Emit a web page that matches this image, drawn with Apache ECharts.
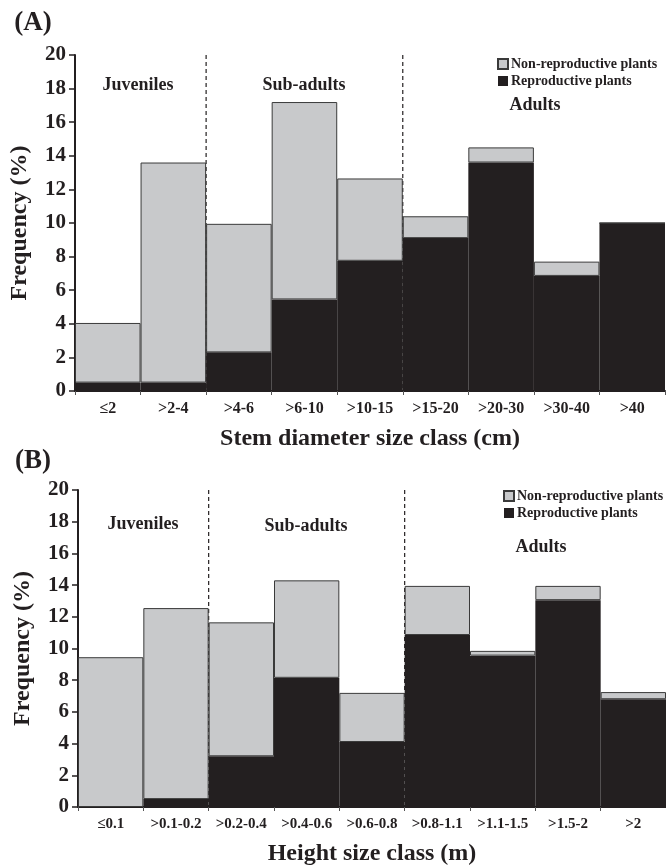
<!DOCTYPE html>
<html><head><meta charset="utf-8">
<script src="https://cdn.jsdelivr.net/npm/echarts@6/dist/echarts.min.js"></script>
<style>html,body{margin:0;padding:0;background:#fff}#c{width:666px;height:867px}</style>
</head><body><div id="c"></div>
<script>
// ---- Data ----
const catsA = ['≤2', '>2-4', '>4-6', '>6-10', '>10-15', '>15-20', '>20-30', '>30-40', '>40'];
const reproA = [0.5, 0.5, 2.3, 5.45, 7.75, 9.1, 13.6, 6.85, 10.0];
const nonReproA = [3.55, 13.1, 7.65, 11.75, 4.9, 1.3, 0.9, 0.85, 0];
const catsB = ['≤0.1', '>0.1-0.2', '>0.2-0.4', '>0.4-0.6', '>0.6-0.8', '>0.8-1.1', '>1.1-1.5', '>1.5-2', '>2'];
const reproB = [0, 0.5, 3.2, 8.15, 4.1, 10.85, 9.55, 13.05, 6.8];
const nonReproB = [9.45, 12.05, 8.45, 6.15, 3.1, 3.1, 0.3, 0.9, 0.45];
const yTicks = [0, 2, 4, 6, 8, 10, 12, 14, 16, 18, 20];
const dividersA = [2, 5]; // boundaries (in class units) between Juveniles/Sub-adults/Adults
const dividersB = [2, 5];
const seriesNames = ['Non-reproductive plants', 'Reproductive plants'];

const FONT = 'Liberation Serif';
const INK = '#231f20';
const GRAY = '#c8c9cb';

const chart = echarts.init(document.getElementById('c'), null, {renderer: 'canvas'});

function xCat(grid, cats, fs) {
  return {
    type: 'category', gridIndex: grid, data: cats,
    axisLine: {lineStyle: {color: INK, width: 2}},
    axisTick: {show: true, length: 4, lineStyle: {color: '#555', width: 1}},
    axisLabel: {color: INK, fontFamily: FONT, fontWeight: 'bold', fontSize: fs, margin: 10, interval: 0},
    name: grid === 0 ? 'Stem diameter size class (cm)' : 'Height size class (m)',
    nameLocation: 'middle', nameGap: grid === 0 ? 36 : 35,
    nameTextStyle: {color: INK, fontFamily: FONT, fontWeight: 'bold', fontSize: 24}
  };
}
function xVal(grid) {
  return {type: 'value', gridIndex: grid, min: 0, max: 9, show: false};
}
function yAx(grid) {
  return {
    type: 'value', gridIndex: grid, min: yTicks[0], max: yTicks[yTicks.length - 1], interval: 2,
    splitLine: {show: false},
    axisLine: {show: true, lineStyle: {color: INK, width: 2}},
    axisTick: {show: true, length: 6, lineStyle: {color: INK, width: 1.5}},
    axisLabel: {color: INK, fontFamily: FONT, fontWeight: 'bold', fontSize: 21, margin: 9},
    name: 'Frequency (%)', nameLocation: 'middle', nameRotate: 90, nameGap: 43,
    nameTextStyle: {color: INK, fontFamily: FONT, fontWeight: 'bold', fontSize: 24}
  };
}
function divider(xi, yi, xs) {
  return {
    type: 'line', xAxisIndex: xi, yAxisIndex: yi, z: 1, silent: true, symbol: 'none',
    lineStyle: {color: INK, width: 1.2, type: [4, 3]},
    data: [[xs, 20], [xs, 0]], legendHoverLink: false, tooltip: {show: false}
  };
}
function bars(xi, yi, repro, non) {
  return [
    {type: 'bar', name: seriesNames[1], xAxisIndex: xi, yAxisIndex: yi, stack: 's' + xi, z: 3,
     barCategoryGap: '0%', data: repro, itemStyle: {color: INK, borderColor: INK, borderWidth: 0}},
    {type: 'bar', name: seriesNames[0], xAxisIndex: xi, yAxisIndex: yi, stack: 's' + xi, z: 3,
     barCategoryGap: '0%', data: non, itemStyle: {color: GRAY, borderColor: '#3a3a3a', borderWidth: 1}}
  ];
}

const series = [];
dividersA.forEach(d => series.push(divider(2, 0, d)));
dividersB.forEach(d => series.push(divider(3, 1, d)));
series.push(...bars(0, 0, reproA, nonReproA));
series.push(...bars(1, 1, reproB, nonReproB));

const legendBase = {
  orient: 'vertical', itemWidth: 10, itemHeight: 10, itemGap: 3, selectedMode: false,
  icon: 'rect', data: seriesNames,
  textStyle: {color: INK, fontFamily: FONT, fontWeight: 'bold', fontSize: 14, padding: [0, 0, 0, -2]}
};

function txt(x, y, s, fs) {
  return {type: 'text', x: x, y: y, style: {text: s, fill: INK, font: 'bold ' + fs + 'px "' + FONT + '"', textAlign: 'center', textVerticalAlign: 'middle'}};
}

chart.setOption({
  animation: false,
  backgroundColor: '#fff',
  grid: [
    {left: 75, right: 1, top: 55, height: 336},
    {left: 78, right: 0, top: 490, height: 318}
  ],
  xAxis: [xCat(0, catsA, 16), xCat(1, catsB, 15), xVal(0), xVal(1)],
  yAxis: [yAx(0), yAx(1)],
  legend: [
    Object.assign({}, legendBase, {left: 492, top: 52}),
    Object.assign({}, legendBase, {left: 498, top: 484})
  ],
  graphic: [
    txt(33, 23, '(A)', 27),
    txt(33, 461, '(B)', 27),
    txt(138, 85, 'Juveniles', 18),
    txt(304, 85, 'Sub-adults', 18),
    txt(535, 105, 'Adults', 18),
    txt(143, 524, 'Juveniles', 18),
    txt(306, 526, 'Sub-adults', 18),
    txt(541, 547, 'Adults', 18)
  ],
  series: series
});
</script>
</body></html>
